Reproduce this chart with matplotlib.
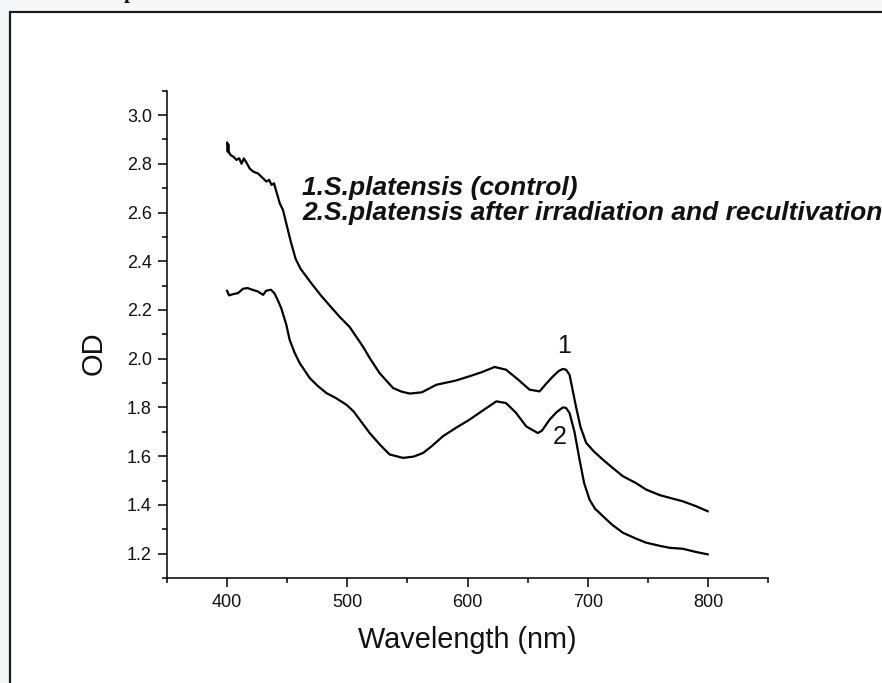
import matplotlib
matplotlib.use('Agg')
import matplotlib.pyplot as plt
from matplotlib.patches import Rectangle
from matplotlib.ticker import MultipleLocator, FixedLocator

# Curve 1: S.platensis (control)
wl_control = [400, 400.5, 401, 401.5, 402.2, 403, 405, 407.8, 410, 412, 413.9, 415.6,
              418.9, 421.7, 425.8, 430, 432.7, 435, 437, 439, 441, 443.8, 446.5,
              450, 453, 457, 461, 470, 478, 485, 494, 502, 513, 519, 527, 538, 545, 552,
              562, 574, 590, 601.7, 612, 622.5, 632, 642, 651.6, 660, 665, 671, 676,
              679.3, 682, 684.9, 690.4, 694, 698.7, 705, 712.6, 720, 729.2, 740,
              748.6, 760, 773.6, 779, 790, 799.8]
od_control = [2.887, 2.85, 2.88, 2.845, 2.843, 2.835, 2.83, 2.816, 2.823, 2.80, 2.822, 2.809,
              2.78, 2.768, 2.76, 2.74, 2.727, 2.734, 2.713, 2.72, 2.686, 2.638, 2.61,
              2.54, 2.48, 2.41, 2.37, 2.31, 2.26, 2.22, 2.17, 2.13, 2.05, 2.0, 1.94, 1.88, 1.865, 1.857,
              1.862, 1.893, 1.91, 1.928, 1.945, 1.966, 1.955, 1.915, 1.873, 1.866, 1.895, 1.927, 1.95,
              1.958, 1.955, 1.934, 1.80, 1.72, 1.655, 1.62, 1.586, 1.555, 1.518, 1.49,
              1.463, 1.44, 1.422, 1.415, 1.395, 1.374]

# Curve 2: S.platensis after irradiation and recultivation
wl_irradiated = [400, 401.6, 405, 409, 413.2, 417, 421, 425.6, 430, 432.4, 436.5, 439.3,
                 442, 445, 449.3, 452, 456.3, 460.4, 468.7, 475, 482.6, 490, 499.3, 505, 510.3,
                 518.6, 527, 535.2, 546.3, 555, 563, 570, 579.6, 590, 601.7, 612, 624, 632,
                 640, 648.9, 658.5, 662, 668.3, 674, 679.3, 682, 684.9, 689, 693.2, 697,
                 701.5, 706, 712.6, 720, 729.2, 740, 748.6, 760, 768, 779, 790, 799.8]
od_irradiated = [2.279, 2.26, 2.265, 2.269, 2.287, 2.29, 2.283, 2.276, 2.262, 2.279, 2.283, 2.269,
                 2.242, 2.208, 2.139, 2.078, 2.023, 1.982, 1.921, 1.89, 1.859, 1.84, 1.811, 1.785, 1.75,
                 1.695, 1.648, 1.607, 1.593, 1.598, 1.613, 1.64, 1.682, 1.715, 1.75, 1.785, 1.825, 1.818,
                 1.78, 1.722, 1.695, 1.705, 1.75, 1.78, 1.80, 1.798, 1.777, 1.70, 1.586, 1.49,
                 1.422, 1.385, 1.354, 1.32, 1.286, 1.262, 1.245, 1.232, 1.224, 1.22, 1.207, 1.197]

x_ticks = [400, 500, 600, 700, 800]
y_ticks = [1.2, 1.4, 1.6, 1.8, 2.0, 2.2, 2.4, 2.6, 2.8, 3.0]
x_label = 'Wavelength (nm)'
y_label = 'OD'
legend_lines = ['1.S.platensis (control)',
                '2.S.platensis after irradiation and recultivation']
curve_tags = ['1', '2']

W, H = 882, 683
fig = plt.figure(figsize=(W / 100, H / 100), dpi=100, facecolor='#f6f7f9')

# outer frame (white panel with dark border, cut by the image edges)
frame = Rectangle((9.5 / W, -0.05), 1.2, 1 - 11.5 / H + 0.05, transform=fig.transFigure,
                  facecolor='white', edgecolor='#1c1c1c', linewidth=1.6, zorder=-5)
fig.patches.append(frame)

# clipped text fragment at the very top
fig.text(124 / W, 1 + 1.5 / H, 'p', fontsize=15, family='Liberation Serif',
         fontweight='bold', va='baseline', ha='left', color='#111111')

ax = fig.add_axes([167 / W, 1 - 578 / H, (768 - 167) / W, (578 - 90.7) / H])
ax.set_facecolor('none')
ax.set_zorder(2)

ax.plot(wl_control, od_control, color='black', lw=1.6)
ax.plot(wl_irradiated, od_irradiated, color='black', lw=1.6)

ax.set_xlim(350, 850)
ax.set_ylim(1.1, 3.1)
ax.xaxis.set_major_locator(FixedLocator(x_ticks))
ax.yaxis.set_major_locator(FixedLocator(y_ticks))
ax.xaxis.set_minor_locator(MultipleLocator(50))
ax.yaxis.set_minor_locator(MultipleLocator(0.1))
ax.set_xticklabels([str(v) for v in x_ticks])
ax.set_yticklabels(['%.1f' % v for v in y_ticks])

for s in ['top', 'right']:
    ax.spines[s].set_visible(False)
for s in ['left', 'bottom']:
    ax.spines[s].set_linewidth(1.1)

ax.tick_params(which='major', direction='out', length=6.8, width=1.1, labelsize=13,
               labelcolor='#111111')
ax.tick_params(axis='x', which='major', pad=5)
ax.tick_params(axis='y', which='major', pad=4)
ax.tick_params(which='minor', direction='out', length=3.5, width=1.1)
for lab in ax.get_xticklabels() + ax.get_yticklabels():
    lab.set_family('Liberation Sans')

fig.text(467.5 / W, 1 - 648 / H, x_label, fontsize=20.8,
         family='Liberation Sans', ha='center', va='baseline', color='#111111')
fig.text(94 / W, 1 - 353 / H, y_label, fontsize=21, family='Liberation Sans',
         rotation=90, ha='center', va='center', color='#111111')

fig.text(302 / W, 1 - 194.5 / H, legend_lines[0], fontsize=19, family='Liberation Sans',
         fontweight='bold', fontstyle='italic', ha='left', va='baseline', color='#111111')
fig.text(302 / W, 1 - 220 / H, legend_lines[1], fontsize=19, family='Liberation Sans',
         fontweight='bold', fontstyle='italic', ha='left', va='baseline', color='#111111')

ax.text(680.7, 2.025, curve_tags[0], fontsize=18, family='Liberation Sans',
        ha='center', va='baseline', color='#111111')
ax.text(676.6, 1.652, curve_tags[1], fontsize=18, family='Liberation Sans',
        ha='center', va='baseline', color='#111111')

fig.savefig('out.png', dpi=100, facecolor=fig.get_facecolor())
